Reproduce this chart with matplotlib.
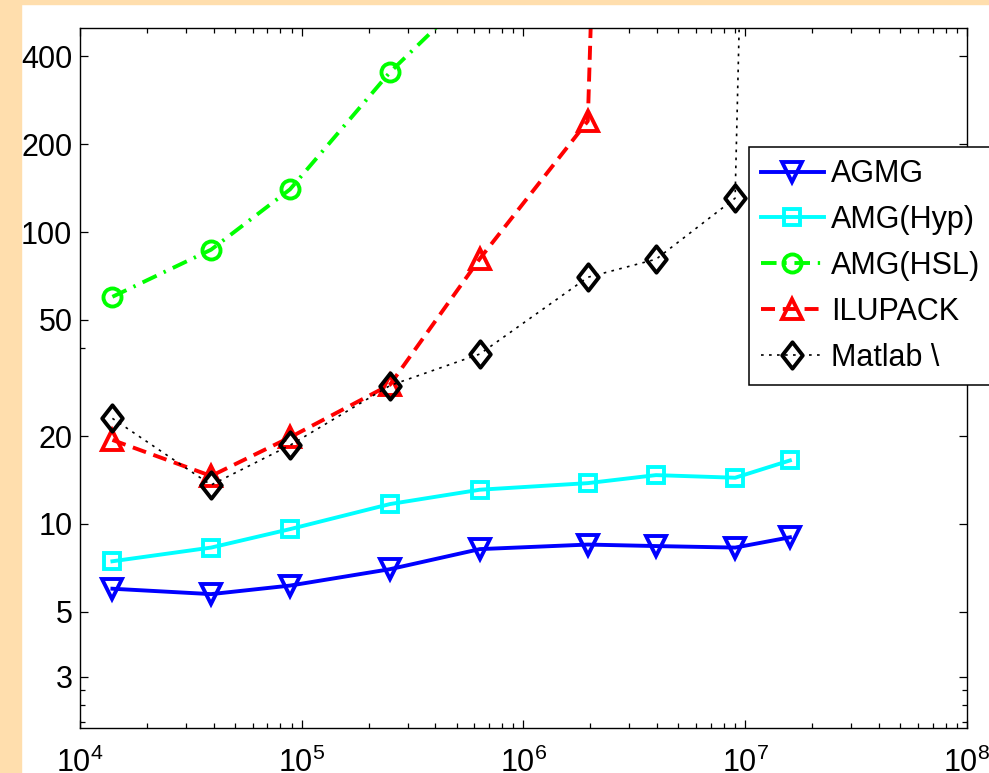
import numpy as np
import matplotlib
matplotlib.use('Agg')
from matplotlib import pyplot as plt
from matplotlib.path import Path
from matplotlib.patches import Rectangle
from matplotlib.ticker import FixedLocator, LogFormatterMathtext, NullFormatter

# problem sizes (x axis) and timings for each solver
n = [1.4e4, 3.9e4, 8.85e4, 2.5e5, 6.35e5, 1.95e6, 3.96e6, 9.0e6, 1.59e7]
agmg = [6.0, 5.75, 6.15, 7.0, 8.2, 8.5, 8.4, 8.3, 9.0]
amg_hyp = [7.45, 8.3, 9.6, 11.7, 13.1, 13.8, 14.7, 14.4, 16.5]
amg_hsl = [60, 87, 140, 353, 700]
ilupack = [19.4, 14.6, 19.8, 30, 81, 240, 1e10]
matlab = [23, 13.6, 18.6, 29.8, 38.2, 70, 80.7, 130.6, 1e10]

yticks = [3, 5, 10, 20, 50, 100, 200, 400]
yminor = [2.1, 2.4, 2.7, 40]

plt.rcParams['font.family'] = ['Liberation Sans', 'DejaVu Sans']
plt.rcParams['mathtext.fontset'] = 'custom'
plt.rcParams['mathtext.rm'] = 'Liberation Sans'
plt.rcParams['mathtext.it'] = 'Liberation Sans:italic'

# matlab style diamond (taller than wide)
diamond = Path([(0, 1), (0.78, 0), (0, -1), (-0.78, 0), (0, 1)],
               [Path.MOVETO, Path.LINETO, Path.LINETO, Path.LINETO, Path.CLOSEPOLY])

fig = plt.figure(figsize=(9.89, 7.73), dpi=100, facecolor='white')
# peach page border from the slide
fig.patches.append(Rectangle((0, 0), 21 / 989, 1, transform=fig.transFigure,
                             color='navajowhite', zorder=-1))
fig.patches.append(Rectangle((0, 1 - 4 / 773), 1, 4 / 773, transform=fig.transFigure,
                             color='navajowhite', zorder=-1))

ax = fig.add_axes([80 / 989, 45 / 773, 887 / 989, 700 / 773])

lw = 2.8
mew = 2.8
ax.loglog(n, agmg, color='blue', lw=lw, marker='v', ms=15, mew=mew,
          mfc='none', label='AGMG')
ax.loglog(n, amg_hyp, color='cyan', lw=lw, marker='s', ms=11, mew=mew,
          mfc='none', label='AMG(Hyp)')
ax.loglog(n[:len(amg_hsl)], amg_hsl, color=(0, 1, 0), lw=lw, ls=(0, (4, 2, 0.6, 2)),
          marker='o', ms=13, mew=mew, mfc='none', label='AMG(HSL)')
ax.loglog(n[:len(ilupack)], ilupack, color='red', lw=lw, ls=(0, (3.6, 2.0)),
          marker='^', ms=15, mew=mew, mfc='none', label='ILUPACK')
ax.loglog(n, matlab, color='black', lw=1.2, ls=(0, (1.6, 3.2)),
          marker=diamond, ms=19, mew=mew, mfc='none', label='Matlab \\')

ax.set_xlim(1e4, 1e8)
ax.set_ylim(2, 500)

ax.yaxis.set_major_locator(FixedLocator(yticks))
ax.yaxis.set_major_formatter(matplotlib.ticker.FixedFormatter([str(v) for v in yticks]))
ax.yaxis.set_minor_locator(FixedLocator(yminor))
ax.yaxis.set_minor_formatter(NullFormatter())
ax.xaxis.set_major_formatter(LogFormatterMathtext())

ax.tick_params(which='both', direction='in', top=True, right=True, labelsize=22, width=0.9)
ax.tick_params(which='major', length=6)
ax.tick_params(which='minor', length=3.3)
ax.tick_params(axis='y', pad=5.5)
ax.tick_params(axis='x', pad=14)
for s in ax.spines.values():
    s.set_linewidth(1.0)

leg = ax.legend(loc='upper left', bbox_to_anchor=(0.754, 0.830), borderaxespad=0,
                fontsize=22, handlelength=2.05, handletextpad=0.25, labelspacing=0.52,
                borderpad=0.4, fancybox=False, framealpha=1, edgecolor='black')
leg.get_frame().set_linewidth(1.1)

plt.savefig('out.png', dpi=100)
